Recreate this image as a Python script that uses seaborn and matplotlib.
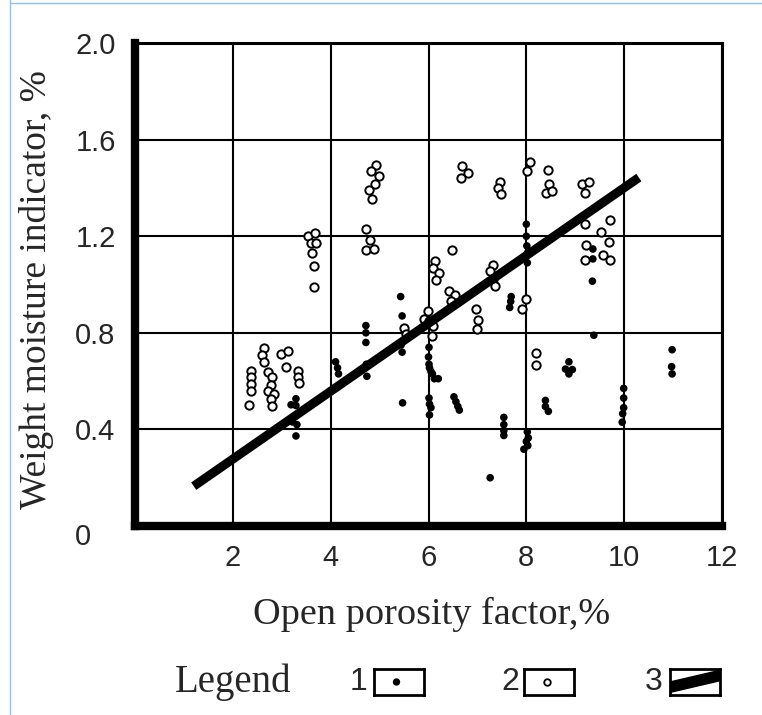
import numpy as np
import pandas as pd
import matplotlib
matplotlib.use("Agg")
import matplotlib.pyplot as plt
from matplotlib.transforms import ScaledTranslation
from matplotlib.patches import Polygon
import seaborn as sns

# group 1 (filled dots)
x1 = [3.29, 3.19, 3.29, 3.22, 3.31, 3.29,
      4.10, 4.14, 4.16,
      4.72, 4.72, 4.72, 4.73, 4.74,
      5.43, 5.46, 5.44, 5.46, 5.47,
      6.01, 6.00, 6.01, 6.02, 6.05, 6.08, 6.12, 6.20, 6.01, 6.02, 6.05, 6.02,
      6.52, 6.56, 6.60, 6.63,
      7.26,
      7.54, 7.54, 7.54, 7.54,
      7.69, 7.68, 7.66,
      8.02, 8.04, 8.00, 8.03, 7.95,
      8.00, 8.00, 8.01, 8.02, 8.02,
      8.39, 8.39, 8.45,
      8.87, 8.80, 8.94, 8.87,
      9.36, 9.36, 9.35, 9.38,
      9.99, 9.99, 9.99, 9.97, 9.96,
      10.98, 10.97, 10.98]
y1 = [0.527, 0.502, 0.499, 0.431, 0.42, 0.373,
      0.68, 0.655, 0.63,
      0.83, 0.80, 0.76, 0.67, 0.62,
      0.95, 0.87, 0.75, 0.72, 0.51,
      0.74, 0.70, 0.67, 0.655, 0.64, 0.63, 0.61, 0.61, 0.53, 0.505, 0.49, 0.46,
      0.535, 0.515, 0.495, 0.48,
      0.20,
      0.45, 0.42, 0.395, 0.375,
      0.95, 0.93, 0.905,
      0.39, 0.365, 0.35, 0.333, 0.318,
      1.25, 1.20, 1.16, 1.13, 1.09,
      0.52, 0.495, 0.475,
      0.68, 0.65, 0.648, 0.63,
      1.147, 1.106, 1.014, 0.79,
      0.57, 0.53, 0.49, 0.465, 0.43,
      0.73, 0.66, 0.63]

# group 2 (open circles)
x2 = [2.37, 2.37, 2.37, 2.37, 2.33,
      2.63, 2.60, 2.63,
      2.71, 2.80, 2.78, 2.71, 2.84, 2.78, 2.80,
      2.98, 3.12, 3.08,
      3.33, 3.33, 3.35,
      3.53, 3.67, 3.60, 3.71, 3.61, 3.65, 3.65,
      4.93, 4.82, 4.99, 4.91, 4.78, 4.84,
      4.72, 4.80, 4.73, 4.88,
      6.14, 6.10, 6.21, 6.15,
      6.49,
      6.42, 6.54, 6.45,
      5.98, 5.91, 6.01, 6.10, 6.07,
      5.50, 5.54,
      7.32, 7.25, 7.31, 7.35,
      6.98, 7.02, 7.00,
      7.99, 7.92,
      8.20, 8.20,
      6.69, 6.80, 6.66,
      7.46, 7.43, 7.48,
      8.07, 8.02,
      8.45, 8.46, 8.41, 8.52,
      9.14, 9.29, 9.20,
      9.20, 9.71, 9.52,
      9.21, 9.69, 9.56, 9.72, 9.20]
y2 = [0.64, 0.617, 0.59, 0.56, 0.50,
      0.737, 0.708, 0.68,
      0.638, 0.617, 0.585, 0.56, 0.547, 0.527, 0.498,
      0.712, 0.724, 0.658,
      0.64, 0.617, 0.593,
      1.20, 1.215, 1.17, 1.17, 1.13, 1.078, 0.99,
      1.494, 1.47, 1.449, 1.416, 1.391, 1.353,
      1.229, 1.185, 1.141, 1.148,
      1.096, 1.069, 1.048, 1.02,
      1.143,
      0.972, 0.955, 0.931,
      0.89, 0.856, 0.849, 0.828, 0.787,
      0.82, 0.794,
      1.082, 1.055, 1.023, 0.993,
      0.90, 0.853, 0.815,
      0.941, 0.90,
      0.716, 0.667,
      1.49, 1.462, 1.443,
      1.425, 1.398, 1.374,
      1.507, 1.47,
      1.473, 1.416, 1.377, 1.388,
      1.416, 1.425, 1.377,
      1.251, 1.267, 1.219,
      1.165, 1.176, 1.123, 1.103, 1.103]

# line 3 (trend)
line_x = [1.2, 10.3]
line_y = [0.165, 1.443]

x_ticks = [2, 4, 6, 8, 10, 12]
y_ticks = [0, 0.4, 0.8, 1.2, 1.6, 2.0]
y_ticklabels = ['0', '0.4', '0.8', '1.2', '1.6', '2.0']

sns.set_style("white")
plt.rcParams['font.family'] = ['Liberation Sans', 'DejaVu Sans']

df1 = pd.DataFrame({'x': x1, 'y': y1})
df2 = pd.DataFrame({'x': x2, 'y': y2})

fig = plt.figure(figsize=(7.62, 7.15), dpi=100)
ax = fig.add_axes([0.1772, 0.2643, 0.7703, 0.6755])

sns.scatterplot(data=df1, x='x', y='y', ax=ax, color='black', s=30,
                edgecolor='none', zorder=3)
sns.scatterplot(data=df2, x='x', y='y', ax=ax, facecolor='white', s=36,
                edgecolor='black', linewidth=1.4, zorder=3)
sns.lineplot(x=line_x, y=line_y, ax=ax, color='black', linewidth=6.5,
             solid_capstyle='butt', zorder=4)

ax.set_xlim(0, 12)
ax.set_ylim(0, 2.0)
ax.set_xticks(x_ticks)
ax.set_yticks(y_ticks)
ax.set_yticklabels(y_ticklabels)
ax.grid(True, color='black', linewidth=1.5)
ax.set_axisbelow(True)
ax.tick_params(axis='both', length=0, labelsize=21)
ax.tick_params(axis='x', pad=13)
ax.tick_params(axis='y', pad=43)
for lab in ax.get_yticklabels():
    lab.set_horizontalalignment('left')
ax.get_yticklabels()[0].set_transform(
    ax.get_yticklabels()[0].get_transform() + ScaledTranslation(0, -6 / 72, fig.dpi_scale_trans))

for side in ['left', 'bottom']:
    ax.spines[side].set_linewidth(6)
for side in ['top', 'right']:
    ax.spines[side].set_linewidth(2.2)
for s in ax.spines.values():
    s.set_color('black')

ax.set_xlabel('Open porosity factor,%', family='Liberation Serif', fontsize=27.5)
ax.set_ylabel('Weight moisture indicator, %', family='Liberation Serif', fontsize=27)
ax.xaxis.set_label_coords(0.506, -0.147)
ax.yaxis.set_label_coords(-0.138, 0.49)

# legend row
fig.text(175 / 762, 1 - 682 / 715, 'Legend', family='Liberation Serif', fontsize=28, va='center')
nums = ['1', '2', '3']
num_x = [358, 510, 654]
box_x = [374, 524, 670]
for i in range(3):
    fig.text(num_x[i] / 762, 1 - 682 / 715, nums[i], fontsize=23, va='center', ha='center')
    bax = fig.add_axes([box_x[i] / 762, 1 - 695 / 715, 50 / 762, 26 / 715])
    bax.set_xlim(0, 1)
    bax.set_ylim(0, 1)
    bax.set_xticks([])
    bax.set_yticks([])
    for s in bax.spines.values():
        s.set_linewidth(2)
        s.set_color('black')
    if i == 0:
        bax.scatter([0.45], [0.5], s=28, color='black', edgecolor='none')
    elif i == 1:
        bax.scatter([0.45], [0.5], s=22, facecolor='white', edgecolor='black', linewidth=1.3)
    else:
        bax.add_patch(Polygon([(0, 0.1), (0, 0.5), (1, 0.95), (1, 0.55)], closed=True, color='black'))

# thin blue page border
fig.add_artist(plt.Line2D([10 / 762, 10 / 762], [0, 1], color='#8fc3ee', lw=1, transform=fig.transFigure))
fig.add_artist(plt.Line2D([10 / 762, 1], [1 - 3 / 715, 1 - 3 / 715], color='#8fc3ee', lw=1, transform=fig.transFigure))

fig.savefig('out.png', dpi=100)
